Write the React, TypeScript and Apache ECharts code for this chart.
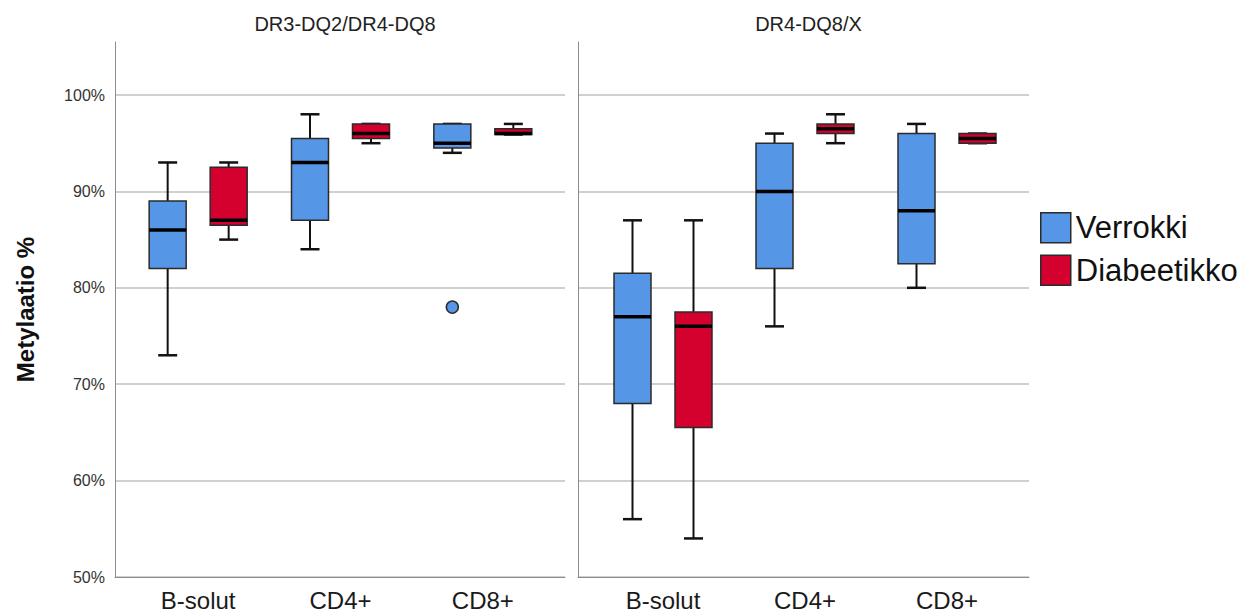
import React, { useEffect, useRef } from 'react';
import * as echarts from 'echarts';

const categories = ['B-solut', 'CD4+', 'CD8+'];
const panelTitles = ['DR3-DQ2/DR4-DQ8', 'DR4-DQ8/X'];
const groupNames = ['Verrokki', 'Diabeetikko'];
const yMin = 50;
const yMax = 100;
const yInterval = 10;
const yAxisTitle = 'Metylaatio %';

// [min, Q1, median, Q3, max] per category
const panel1Verrokki = [
  [73, 82, 86, 89, 93],
  [84, 87, 93, 95.5, 98],
  [94, 94.5, 95, 97, 97],
];
const panel1Diabeetikko = [
  [85, 86.5, 87, 92.5, 93],
  [95, 95.5, 96, 97, 97],
  [95.9, 95.9, 96, 96.5, 97],
];
const panel2Verrokki = [
  [56, 68, 77, 81.5, 87],
  [76, 82, 90, 95, 96],
  [80, 82.5, 88, 96, 97],
];
const panel2Diabeetikko = [
  [54, 65.5, 76, 77.5, 87],
  [95, 96, 96.5, 97, 98],
  [95, 95, 95.5, 96, 96],
];
// outliers: [categoryIndex, value]
const panel1VerrokkiOutliers = [[2, 78]];

const BLUE = '#5596e6';
const RED = '#d4002e';
const FONT = '"Liberation Sans", Arial, sans-serif';

const makeRender = (offset: number, color: string) => (params: any, api: any) => {
  const cat = api.value(0);
  const pt = (v: number) => api.coord([cat, v]);
  const cx = pt(api.value(3))[0] + offset;
  const yLo = pt(api.value(1))[1];
  const yQ1 = pt(api.value(2))[1];
  const yMed = pt(api.value(3))[1];
  const yQ3 = pt(api.value(4))[1];
  const yHi = pt(api.value(5))[1];
  const half = 18.5;
  const capHalf = 9.5;
  const stroke = '#111';
  return {
    type: 'group',
    children: [
      { type: 'line', shape: { x1: cx, y1: yHi, x2: cx, y2: yQ3 }, style: { stroke, lineWidth: 2 } },
      { type: 'line', shape: { x1: cx, y1: yQ1, x2: cx, y2: yLo }, style: { stroke, lineWidth: 2 } },
      { type: 'line', shape: { x1: cx - capHalf, y1: yHi, x2: cx + capHalf, y2: yHi }, style: { stroke, lineWidth: 2.5 } },
      { type: 'line', shape: { x1: cx - capHalf, y1: yLo, x2: cx + capHalf, y2: yLo }, style: { stroke, lineWidth: 2.5 } },
      {
        type: 'rect',
        shape: { x: cx - half, y: yQ3, width: half * 2, height: Math.max(yQ1 - yQ3, 0.5) },
        style: { fill: color, stroke: '#2b2b2b', lineWidth: 1.5 },
      },
      { type: 'line', shape: { x1: cx - half, y1: yMed, x2: cx + half, y2: yMed }, style: { stroke: '#000', lineWidth: 3.5 } },
    ],
  };
};

const toData = (arr: number[][]) => arr.map((d, i) => [i, ...d]);

export default function App() {
  const ref = useRef<HTMLDivElement>(null);
  useEffect(() => {
    document.body.style.margin = '0';
    if (!ref.current) return;
    const chart = echarts.init(ref.current, undefined, { renderer: 'svg' });

    const frames = [
      { left: 115, width: 450, dataLeft: 127, dataWidth: 427 },
      { left: 578, width: 451, dataLeft: 592, dataWidth: 426 },
    ];
    const top = 42;
    const gridTop = 95;
    const bottomY = 577;
    const H = 616;
    const topMax = yMax + (gridTop - top) / ((bottomY - gridTop) / (yMax - yMin));

    const grids: any[] = [];
    const xAxes: any[] = [];
    const yAxes: any[] = [];
    frames.forEach((f, p) => {
      // frame grid (axis lines)
      grids.push({ left: f.left, width: f.width, top, bottom: H - bottomY });
      // gridline grid
      grids.push({ left: f.left, width: f.width, top: gridTop, bottom: H - bottomY });
      // data grid
      grids.push({ left: f.dataLeft, width: f.dataWidth, top, bottom: H - bottomY });
      const g0 = p * 3;
      xAxes.push({
        gridIndex: g0, type: 'category', data: categories,
        axisLine: { show: true, lineStyle: { color: '#8c8c8c', width: 1 } },
        axisTick: { show: false }, axisLabel: { show: false }, splitLine: { show: false },
      });
      yAxes.push({
        gridIndex: g0, type: 'value', min: yMin, max: topMax,
        axisLine: { show: true, lineStyle: { color: '#8c8c8c', width: 1 } },
        axisTick: { show: false }, axisLabel: { show: false }, splitLine: { show: false },
        name: p === 0 ? yAxisTitle : '',
        nameLocation: 'middle', nameGap: 78, nameRotate: 90,
        nameTextStyle: { fontSize: 24, fontWeight: 'bold', color: '#111', fontFamily: FONT },
      });
      xAxes.push({
        gridIndex: g0 + 1, type: 'category', data: categories, show: false,
      });
      yAxes.push({
        gridIndex: g0 + 1, type: 'value', min: yMin, max: yMax, interval: yInterval,
        axisLine: { show: false }, axisTick: { show: false },
        axisLabel: {
          show: p === 0, margin: 10, fontSize: 16, color: '#333', fontFamily: FONT,
          formatter: (v: number) => `${v}%`,
        },
        splitLine: { show: true, lineStyle: { color: '#d0d0d0', width: 2 } },
      });
      xAxes.push({
        gridIndex: g0 + 2, type: 'category', data: categories,
        axisLine: { show: false }, axisTick: { show: false },
        axisLabel: { show: true, margin: 11, fontSize: 24, color: '#1a1a1a', fontFamily: FONT, interval: 0 },
        splitLine: { show: false },
      });
      yAxes.push({
        gridIndex: g0 + 2, type: 'value', min: yMin, max: topMax, show: false,
        splitLine: { show: false },
      });
    });

    const panelData = [
      [panel1Verrokki, panel1Diabeetikko],
      [panel2Verrokki, panel2Diabeetikko],
    ];
    const colors = [BLUE, RED];
    const offsets = [-30.5, 30.5];
    const series: any[] = [];
    panelData.forEach((pd, p) => {
      pd.forEach((arr, gi) => {
        series.push({
          type: 'custom',
          name: groupNames[gi],
          xAxisIndex: p * 3 + 2,
          yAxisIndex: p * 3 + 2,
          itemStyle: { color: colors[gi] },
          encode: { x: 0, y: [1, 2, 3, 4, 5] },
          renderItem: makeRender(offsets[gi], colors[gi]),
          data: toData(arr),
          z: 3,
        });
      });
    });
    series.push({
      type: 'scatter',
      name: groupNames[0],
      xAxisIndex: 2,
      yAxisIndex: 2,
      symbol: 'circle',
      symbolSize: 12,
      symbolOffset: [offsets[0], 0],
      itemStyle: { color: BLUE, borderColor: '#2b2b2b', borderWidth: 1.5, opacity: 1 },
      data: panel1VerrokkiOutliers,
      z: 4,
    });

    chart.setOption({
      animation: false,
      backgroundColor: '#ffffff',
      title: panelTitles.map((t, p) => ({
        text: t,
        left: frames[p].left + frames[p].width / 2,
        textAlign: 'center',
        top: 9,
        textStyle: { fontSize: 20, fontWeight: 'normal', color: '#222', fontFamily: FONT },
      })),
      legend: {
        orient: 'vertical',
        left: 1035,
        top: 207,
        itemWidth: 30,
        itemHeight: 30,
        itemGap: 11,
        icon: 'rect',
        selectedMode: false,
        itemStyle: { borderColor: '#2b2b2b', borderWidth: 1.5 },
        textStyle: { fontSize: 31, color: '#111', fontFamily: FONT, lineHeight: 30 },
        data: groupNames,
      },
      grid: grids,
      xAxis: xAxes,
      yAxis: yAxes,
      series,
    });
    return () => chart.dispose();
  }, []);
  return <div ref={ref} style={{ width: 1249, height: 616 }} />;
}
